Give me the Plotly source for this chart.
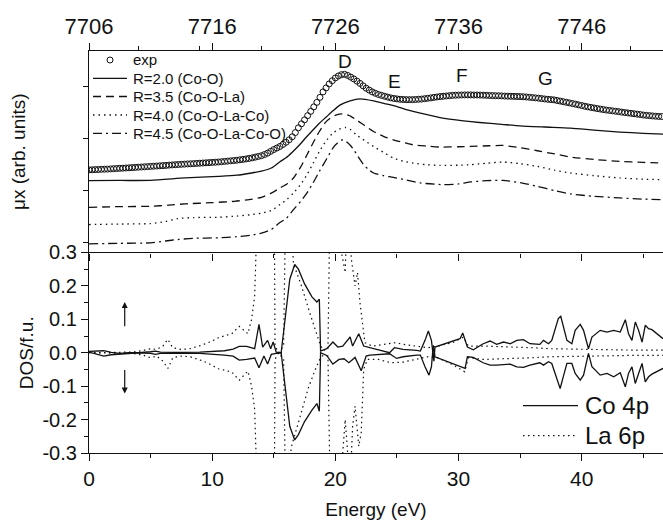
import plotly.graph_objects as go

# ---------------- top panel: XANES (arbitrary units) ----------------
exp_start_ev = 0.0
exp_step_ev = 0.25
exp_mu = [
    82.8, 82.9, 83.1, 83.2, 83.4, 83.5, 83.6, 83.8, 84.0, 84.2, 84.4, 84.5,
    84.7, 84.9, 85.1, 85.3, 85.5, 85.7, 85.9, 86.1, 86.3, 86.5, 86.7, 86.9,
    87.1, 87.3, 87.6, 87.8, 88.0, 88.2, 88.4, 88.6, 88.8, 88.9, 89.1, 89.3,
    89.5, 89.7, 89.9, 90.1, 90.3, 90.5, 90.7, 91.0, 91.3, 91.6, 91.9, 92.2,
    92.5, 92.9, 93.3, 93.8, 94.3, 94.9, 95.6, 96.3, 97.0, 98.2, 99.6, 101.4,
    103.2, 104.7, 106.3, 108.3, 110.5, 113.0, 116.0, 120.2, 125.0, 129.0, 133.0, 137.2,
    141.5, 146.0, 150.5, 155.5, 161.0, 165.0, 169.0, 172.2, 175.0, 177.0, 178.3, 178.6,
    177.5, 175.8, 174.0, 171.8, 169.5, 167.1, 164.7, 162.8, 161.0, 159.6, 158.4, 157.5,
    156.6, 155.8, 155.0, 154.4, 154.0, 153.6, 153.4, 153.2, 153.2, 153.2, 153.4, 153.6,
    153.8, 154.2, 154.6, 155.0, 155.5, 155.9, 156.3, 156.6, 156.9, 157.2, 157.5, 157.7,
    157.8, 157.9, 158.0, 158.0, 158.0, 157.9, 157.9, 157.8, 157.7, 157.6, 157.4, 157.3,
    157.2, 157.1, 157.0, 156.8, 156.7, 156.6, 156.5, 156.4, 156.3, 156.1, 155.9, 155.6,
    155.3, 155.0, 154.7, 154.3, 153.9, 153.6, 153.3, 153.0, 152.4, 151.8, 151.2, 150.6,
    150.0, 149.3, 148.7, 148.0, 147.3, 146.6, 146.0, 145.4, 144.9, 144.3, 143.8, 143.3,
    142.8, 142.4, 142.0, 141.6, 141.2, 140.7, 140.3, 139.9, 139.5, 139.1, 138.7, 138.3,
    137.8, 137.5, 137.2, 136.9, 136.6, 136.4, 136.3,
]
exp_energy = [round(exp_start_ev + exp_step_ev * i, 2) for i in range(len(exp_mu))]

r20_energy = [0, 2.5, 5, 7.8, 10.5, 12, 13.2, 14, 14.8, 15.5, 16, 16.5, 17.1, 17.6, 18.2, 18.7,
              19.3, 19.8, 20.4, 21.2, 22, 23.1, 24, 25, 26, 26.9, 28.5, 30.4, 31.7, 33.5, 35,
              37, 39.1, 41, 43.1, 45, 46.6]
r20_mu = [72, 72.2, 72.3, 74.7, 76.3, 77.5, 79.7, 81.5, 84.7, 91, 95, 100.5, 108, 115, 123, 129.5,
          136.3, 142, 148, 152, 154, 152, 149.3, 146.3, 142.5, 139.7, 135.3, 132, 130.3, 128.5, 127,
          125.8, 124.7, 122.7, 120.7, 119.5, 118.7]

r35_energy = [0, 2.5, 5, 6.5, 7.8, 10, 11.8, 13, 14, 14.8, 15.5, 16.1, 16.6, 17.2, 17.7, 18.2,
              18.7, 19.2, 19.6, 20.1, 20.6, 21.1, 21.7, 22.4, 23.1, 23.9, 24.7, 25.5, 26.3, 27.4,
              28.5, 30, 31, 32.5, 33.6, 35, 36.4, 37.8, 39.1, 41, 43.1, 45, 46.6]
r35_mu = [45.3, 46, 46.3, 47.5, 48.7, 50, 51.3, 53, 55.3, 59.5, 64.7, 69, 74.7, 86, 98, 110,
          121.3, 130.5, 134.7, 138, 139, 137.5, 133, 127, 121.3, 116.5, 113, 110.5, 108, 106.7,
          105.7, 106, 106.3, 107, 107.3, 105, 102, 98.8, 95.7, 93.3, 91.3, 90.3, 89.7]

r40_energy = [0, 2.5, 5, 6.2, 7.2, 8.5, 10.5, 12, 13.2, 14, 14.8, 15.5, 16.1, 16.6, 17.2, 17.7,
              18.2, 18.7, 19.2, 19.8, 20.3, 20.8, 21.2, 21.7, 22.4, 23.1, 23.9, 24.7, 25.5, 26.3,
              27.4, 28.5, 30, 31, 32.3, 33.6, 35, 36.4, 37.8, 39.1, 41, 43.1, 45, 46.6]
r40_mu = [28, 28.5, 29, 31, 34, 35, 35.3, 36.5, 38, 39.5, 42, 48, 53.5, 59.7, 68.5, 78,
          89.5, 101.3, 111, 119.7, 123.5, 125.3, 123.5, 118, 112, 106.3, 100.5, 94.7, 91.5, 89.7,
          88, 87.3, 87.5, 88, 89.5, 90.7, 89, 86.3, 82.5, 79.7, 77, 74.7, 73.5, 73]

r45_energy = [0, 2.5, 5, 6.2, 7.2, 8.5, 10.5, 12, 13.2, 14, 14.8, 15.5, 16, 16.6, 17.2, 17.7,
              18.2, 18.7, 19.3, 19.8, 20.2, 20.6, 21, 21.4, 21.9, 22.3, 22.7, 23.1, 23.9, 24.7,
              25.8, 26.9, 28.8, 30, 31, 32.3, 33.6, 35, 36.4, 37.8, 39.1, 41, 43.1, 45, 46.6]
r45_mu = [8.7, 9.2, 9.7, 11.5, 13, 14.2, 14.7, 15.8, 17.3, 19.5, 23, 30, 34, 43, 51.5, 59.7,
          70, 81.3, 94, 104.7, 110, 113, 110, 104.7, 95, 88, 83, 79.7, 77, 75.3,
          72.5, 69.7, 68, 68.7, 70.7, 72, 72.3, 70, 66.3, 62, 58.7, 56.3, 54.7, 53.5, 53]

feature_labels = ["D", "E", "F", "G"]
feature_energy = [20.8, 24.8, 30.3, 37.1]
feature_mu = [191.5, 171.5, 177.5, 174.0]

edge_energy_offset = 7706  # top axis: photon energy (eV)

# ---------------- bottom panel: DOS ----------------
co_up_energy = [0, 0.6, 1.2, 1.8, 2.5, 3.2, 4.0, 5.0, 5.4, 5.8, 7.0, 9.0, 10.1, 11.0, 11.7, 12.2,
                12.8, 13.45, 13.8, 14.1, 14.5, 14.75, 14.95, 15.2, 15.6, 16.3, 16.7, 17.0, 17.5,
                18.1, 18.5, 18.7, 18.8, 19.3, 19.8, 20.2, 20.6, 21.2, 21.4, 21.9, 22.3, 22.8,
                23.6, 24.4, 24.8, 25.5, 26.6, 26.9, 27.28, 27.55, 27.8, 28.0, 28.09, 30.12,
                30.34, 30.72, 31.2, 32.0, 32.56, 33.1, 33.65, 34.19, 34.73, 35.27, 35.8, 36.6,
                36.9, 37.3, 37.57, 37.84, 38.1, 38.3, 38.5, 38.8, 39.2, 39.47, 39.88, 40.15,
                40.55, 40.83, 41.5, 42.05, 42.6, 43.13, 43.54, 43.8, 44.08, 44.35, 44.62, 44.9,
                45.16, 45.43, 45.7, 46.1, 46.6]
co_up = [0.004, 0.006, 0.006, 0.001, -0.002, 0.0, 0.0, 0.003, 0.005, 0.002, 0.001, 0.002, 0.003,
         0.006, 0.011, 0.019, 0.019, 0.012, 0.085, 0.017, 0.037, 0.012, 0.032, 0.002, 0.0, 0.22,
         0.264, 0.25, 0.206, 0.167, 0.152, 0.16, 0.005, 0.012, 0.032, 0.017, 0.02, 0.047, 0.02,
         0.057, 0.02, 0.015, 0.007, 0.0, 0.015, 0.01, 0.007, 0.005, 0.037, 0.065, 0.037, -0.025,
         0.017, 0.042, 0.059, 0.017, 0.009, 0.027, 0.035, 0.025, 0.032, 0.027, 0.037, 0.039,
         0.027, 0.025, 0.037, 0.027, 0.037, 0.067, 0.102, 0.109, 0.077, 0.037, 0.027, 0.067,
         0.085, 0.067, 0.012, 0.047, 0.067, 0.062, 0.067, 0.062, 0.099, 0.057, 0.037, 0.092,
         0.067, 0.032, 0.082, 0.072, 0.069, 0.057, 0.042]

co_dn_energy = [0, 0.6, 1.2, 1.8, 2.5, 3.2, 4.0, 5.0, 5.4, 5.8, 7.0, 9.0, 10.1, 11.0, 11.7, 12.2,
                12.8, 13.45, 13.8, 14.2, 14.5, 14.8, 15.2, 15.6, 16.3, 16.7, 17.0, 17.5, 18.1,
                18.5, 18.7, 18.8, 19.3, 19.8, 20.3, 20.7, 21.1, 21.6, 22.1, 22.5, 22.8, 24.4,
                24.97, 25.5, 26.6, 26.9, 27.28, 27.6, 27.8, 27.95, 28.09, 30.12, 30.53, 30.72,
                31.2, 32.0, 32.56, 33.1, 34.19, 34.73, 35.27, 35.8, 36.6, 36.9, 37.3, 37.57,
                37.84, 38.25, 38.5, 38.8, 39.2, 39.47, 39.88, 40.15, 40.55, 40.83, 41.5, 42.05,
                42.6, 43.13, 43.54, 43.8, 44.08, 44.35, 44.62, 44.9, 45.16, 45.43, 45.7, 46.1,
                46.6]
co_dn = [0.002, -0.004, -0.01, -0.006, -0.004, -0.002, 0.0, -0.002, -0.005, -0.002, -0.001,
         -0.002, -0.004, -0.007, -0.01, -0.022, -0.02, -0.016, -0.045, -0.01, -0.034, -0.005,
         -0.002, 0.0, -0.22, -0.261, -0.245, -0.206, -0.172, -0.152, -0.175, 0.0, -0.008,
         -0.034, -0.02, -0.018, -0.03, -0.014, -0.054, -0.01, -0.007, -0.003, -0.017, -0.012,
         -0.007, -0.007, -0.042, -0.067, -0.042, 0.022, -0.012, -0.04, -0.047, -0.012, -0.014,
         -0.03, -0.037, -0.037, -0.034, -0.042, -0.044, -0.037, -0.03, -0.037, -0.027, -0.032,
         -0.062, -0.107, -0.072, -0.032, -0.032, -0.062, -0.082, -0.067, -0.002, -0.042,
         -0.067, -0.062, -0.072, -0.06, -0.102, -0.062, -0.042, -0.092, -0.062, -0.032, -0.087,
         -0.072, -0.064, -0.057, -0.047]

la_up_energy = [0, 2, 3.5, 4.3, 5.0, 5.5, 6.0, 6.4, 6.8, 7.5, 8.2, 9.1, 9.6, 10.0, 10.5, 11.0,
                11.6, 12.2, 12.6, 12.9, 13.2, 13.45, 13.6, 13.7, 15.0, 15.1, 15.4, 15.8, 16.1,
                16.4, 16.6, 17.25, 17.9, 18.3, 18.7, 19.0, 19.4, 19.7, 20.3, 20.5, 20.8, 21.0,
                21.3, 21.6, 21.8, 22.0, 22.2, 22.4, 23.0, 24.0, 24.9, 25.5, 26.5, 27.5, 28.3,
                29.5, 30.4, 30.8, 32, 34, 36, 37.5, 40, 42, 44, 46.6]
la_up = [0.0, 0.0, 0.002, 0.006, 0.012, 0.01, 0.02, 0.04, 0.015, 0.01, 0.012, 0.022, 0.028,
         0.035, 0.045, 0.05, 0.057, 0.079, 0.065, 0.057, 0.1, 0.17, 0.35, 0.8, 0.8, 0.02, 0.0,
         0.02, 0.8, 0.4, 0.266, 0.2, 0.122, 0.077, 0.032, 0.007, 0.01, 0.8, 0.8, 0.3, 0.24, 0.5,
         0.28, 0.2, 0.24, 0.15, 0.08, 0.03, 0.02, 0.025, 0.03, 0.025, 0.02, 0.015, 0.02, 0.03,
         0.047, 0.02, 0.02, 0.018, 0.015, 0.012, 0.01, 0.01, 0.008, 0.008]

la_dn_energy = [0, 2, 3.5, 4.3, 5.0, 5.5, 6.0, 6.4, 6.8, 7.5, 8.2, 9.1, 9.6, 10.0, 10.5, 11.0,
                11.6, 12.2, 12.6, 12.9, 13.2, 13.45, 13.6, 13.7, 15.0, 15.1, 15.4, 15.8, 16.1,
                16.3, 16.4, 17.1, 17.8, 18.3, 18.7, 19.0, 19.4, 19.75, 20.4, 20.6, 20.8, 21.0,
                21.2, 21.4, 21.6, 21.9, 22.1, 22.3, 22.6, 23.5, 24.5, 25.5, 26.5, 27.5, 28.3,
                29.5, 30.5, 30.8, 32, 34, 36, 37.5, 40, 42, 44, 46.6]
la_dn = [0.0, 0.0, -0.002, -0.006, -0.015, -0.01, -0.025, -0.047, -0.015, -0.01, -0.012, -0.023,
         -0.03, -0.038, -0.048, -0.052, -0.058, -0.082, -0.065, -0.055, -0.1, -0.17, -0.35, -0.8,
         -0.8, -0.02, 0.0, -0.02, -0.8, -0.5, -0.285, -0.196, -0.106, -0.057, -0.022, -0.008,
         -0.01, -0.8, -0.8, -0.3, -0.2, -0.3, -0.4, -0.22, -0.16, -0.28, -0.24, -0.05, -0.02,
         -0.02, -0.03, -0.028, -0.02, -0.012, -0.015, -0.035, -0.057, -0.015, -0.02, -0.018,
         -0.015, -0.012, -0.01, -0.01, -0.008, -0.008]

dos_ticks = [-0.3, -0.2, -0.1, 0.0, 0.1, 0.2, 0.3]
dos_ticktext = ["-0.3", "-0.2", "-0.1", "0.0", "0.1", "0.2", "0.3"]
dos_minor = [-0.25, -0.15, -0.05, 0.05, 0.15, 0.25]
mu_ticks = [9.7, 61.9, 114.1, 166.3]

energy_max = 46.6
FONT = "Liberation Sans, Arial, Helvetica, sans-serif"
INK = "#111111"

# legend entries (drawn as key samples + real text)
top_legend_names = ["exp", "R=2.0 (Co-O)", "R=3.5 (Co-O-La)", "R=4.0 (Co-O-La-Co)",
                    "R=4.5 (Co-O-La-Co-O)"]
bottom_legend_names = ["Co 4p", "La 6p"]

DASH_R20, DASH_R35, DASH_R40, DASH_R45 = "solid", "8px,5px", "1.5px,4px", "9px,4px,2px,4px"
DASH_LA = "1.5px,3.5px"

fig = go.Figure()

fig.add_trace(go.Scatter(x=exp_energy, y=exp_mu, mode="markers", name=top_legend_names[0],
                         xaxis="x2", yaxis="y2",
                         marker=dict(symbol="circle-open", size=6, color=INK, line=dict(width=1))))
calc = [
    (top_legend_names[1], r20_energy, r20_mu, DASH_R20),
    (top_legend_names[2], r35_energy, r35_mu, DASH_R35),
    (top_legend_names[3], r40_energy, r40_mu, DASH_R40),
    (top_legend_names[4], r45_energy, r45_mu, DASH_R45),
]
for name, xe, yv, dash in calc:
    fig.add_trace(go.Scatter(x=xe, y=yv, mode="lines", name=name, xaxis="x2", yaxis="y2",
                             line=dict(color=INK, width=1.3, dash=dash, shape="spline", smoothing=0.6)))

# carrier for the top (photon energy) axis
fig.add_trace(go.Scatter(x=[edge_energy_offset, edge_energy_offset + energy_max], y=[100, 100],
                         xaxis="x3", yaxis="y2", mode="markers", marker=dict(opacity=0),
                         showlegend=False, hoverinfo="skip"))

fig.add_trace(go.Scatter(x=co_up_energy + [None] + co_dn_energy, y=co_up + [None] + co_dn,
                         mode="lines", name=bottom_legend_names[0], xaxis="x", yaxis="y",
                         line=dict(color=INK, width=1.3), connectgaps=False))
fig.add_trace(go.Scatter(x=la_up_energy + [None] + la_dn_energy, y=la_up + [None] + la_dn,
                         mode="lines", name=bottom_legend_names[1], xaxis="x", yaxis="y",
                         line=dict(color=INK, width=1.2, dash=DASH_LA), connectgaps=False))

# ---- pixel helpers for legend placement (plot area: x 89..663, y 51..453) ----
PX_L, PX_R, PX_T, PX_B = 89.0, 663.0, 51.0, 453.0


def px(xp):
    return (xp - PX_L) / (PX_R - PX_L)


def py(yp):
    return (PX_B - yp) / (PX_B - PX_T)


annotations = []
shapes = []
for lab, xe, yv in zip(feature_labels, feature_energy, feature_mu):
    annotations.append(dict(x=xe, y=yv, xref="x2", yref="y2", text=lab, showarrow=False,
                            font=dict(size=19, color=INK, family=FONT)))
# spin arrows
annotations.append(dict(x=2.9, y=0.152, ax=2.9, ay=0.075, xref="x", yref="y", axref="x", ayref="y",
                        text="", showarrow=True, arrowhead=2, arrowsize=1, arrowwidth=1.2,
                        arrowcolor=INK))
annotations.append(dict(x=2.9, y=-0.122, ax=2.9, ay=-0.047, xref="x", yref="y", axref="x", ayref="y",
                        text="", showarrow=True, arrowhead=2, arrowsize=1, arrowwidth=1.2,
                        arrowcolor=INK))

# top-panel key
top_rows = [60.0, 78.3, 96.5, 115.0, 133.3]
shapes.append(dict(type="circle", xref="paper", yref="paper", xsizemode="pixel",
                   ysizemode="pixel", xanchor=px(110), yanchor=py(top_rows[0]),
                   x0=-3, x1=3, y0=-3, y1=3, line=dict(color=INK, width=1)))
for yrow, dash in zip(top_rows[1:], [DASH_R20, DASH_R35, DASH_R40, DASH_R45]):
    shapes.append(dict(type="line", xref="paper", yref="paper", x0=px(93), x1=px(127),
                       y0=py(yrow), y1=py(yrow), line=dict(color=INK, width=1.3, dash=dash)))
for yrow, name in zip(top_rows, top_legend_names):
    annotations.append(dict(x=px(131), y=py(yrow), xref="paper", yref="paper", text=name,
                            showarrow=False, xanchor="left", yanchor="middle",
                            font=dict(size=15, color=INK, family=FONT)))

# bottom-panel key
bot_rows = [405.7, 435.7]
for yrow, dash, w in zip(bot_rows, ["solid", DASH_LA], [1.3, 1.2]):
    shapes.append(dict(type="line", xref="paper", yref="paper", x0=px(523), x1=px(578),
                       y0=py(yrow), y1=py(yrow), line=dict(color=INK, width=w, dash=dash)))
for yrow, name in zip(bot_rows, bottom_legend_names):
    annotations.append(dict(x=px(583), y=py(yrow), xref="paper", yref="paper", text=name,
                            showarrow=False, xanchor="left", yanchor="middle",
                            font=dict(size=24, color=INK, family=FONT)))

split = 0.4988
axis_common = dict(showline=True, linecolor=INK, linewidth=1.3, ticks="outside", tickcolor=INK,
                   tickwidth=1.2, showgrid=False, zeroline=False)

fig.update_layout(
    width=663, height=529,
    margin=dict(l=89, r=0, t=51, b=76),
    paper_bgcolor="white", plot_bgcolor="white",
    font=dict(family=FONT, color=INK, size=19),
    annotations=annotations,
    shapes=shapes,
    showlegend=False,
    xaxis=dict(domain=[0, 1], anchor="y", range=[0, energy_max], tick0=0, dtick=10, ticklen=7,
               minor=dict(dtick=5, ticklen=4, ticks="outside", tickcolor=INK),
               tickfont=dict(size=21), title=dict(text="Energy (eV)", font=dict(size=19), standoff=13),
               **axis_common),
    yaxis=dict(domain=[0, split], anchor="x", range=[-0.3, 0.3], tickmode="array",
               tickvals=dos_ticks, ticktext=dos_ticktext, ticklen=7,
               minor=dict(tickvals=dos_minor, ticklen=4, ticks="outside", tickcolor=INK),
               tickfont=dict(size=20), title=dict(text="DOS/f.u.", font=dict(size=19), standoff=3),
               **axis_common),
    xaxis2=dict(domain=[0, 1], anchor="y2", range=[0, energy_max], tick0=0, dtick=10, ticklen=7,
                minor=dict(dtick=5, ticklen=4, ticks="outside", tickcolor=INK),
                showticklabels=False, **axis_common),
    xaxis3=dict(overlaying="x2", anchor="y2", side="top",
                range=[edge_energy_offset, edge_energy_offset + energy_max],
                tick0=edge_energy_offset, dtick=10, ticklen=7,
                minor=dict(dtick=5, ticklen=4, ticks="outside", tickcolor=INK),
                tickfont=dict(size=22), **axis_common),
    yaxis2=dict(domain=[split, 1], anchor="x2", range=[0, 202], tickmode="array",
                tickvals=mu_ticks, ticklen=5, showticklabels=False,
                title=dict(text="μx (arb. units)", font=dict(size=19), standoff=52),
                **axis_common),
)

fig.write_html("out.html")
